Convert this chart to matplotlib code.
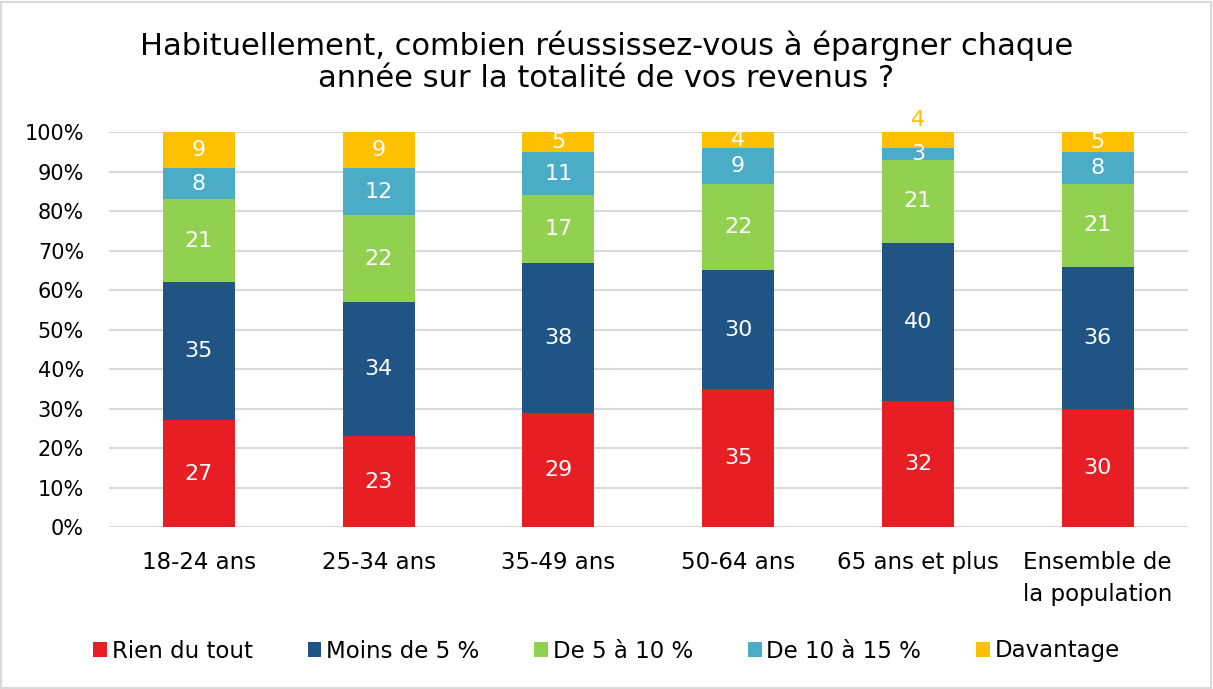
import numpy as np
import matplotlib.pyplot as plt
from matplotlib.patches import Rectangle

categories = ['18-24 ans', '25-34 ans', '35-49 ans', '50-64 ans', '65 ans et plus', 'Ensemble de\nla population']
series = ['Rien du tout', 'Moins de 5 %', 'De 5 à 10 %', 'De 10 à 15 %', 'Davantage']
rien = [27, 23, 29, 35, 32, 30]
moins5 = [35, 34, 38, 30, 40, 36]
de5a10 = [21, 22, 17, 22, 21, 21]
de10a15 = [8, 12, 11, 9, 3, 8]
davantage = [9, 9, 5, 4, 4, 5]
colors = ['#E81E25', '#1F5485', '#92D050', '#4BACC6', '#FFC000']

plt.rcParams['font.family'] = 'DejaVu Sans'

fig = plt.figure(figsize=(12.13, 6.89), dpi=100)
ax = fig.add_axes([0.0899, 0.235, 0.8891, 0.573])
fig.patches.append(Rectangle((0.001, 0.001), 0.997, 0.996, transform=fig.transFigure,
                             fill=False, edgecolor='#D9D9D9', linewidth=1.5))

x = np.arange(len(categories))
bottom = np.zeros(len(categories))
data = [rien, moins5, de5a10, de10a15, davantage]
for s, vals, c in zip(series, data, colors):
    vals = np.array(vals, dtype=float)
    ax.bar(x, vals, 0.4, bottom=bottom, color=c, label=s, zorder=3)
    for i, v in enumerate(vals):
        if s == 'Davantage' and i == 4:
            # small segment: label above the bar
            ax.text(x[i], bottom[i] + v + 3, f'{int(v)}', ha='center', va='center',
                    color=c, fontsize=16)
        else:
            ax.text(x[i], bottom[i] + v / 2, f'{int(v)}', ha='center', va='center',
                    color='white', fontsize=16, zorder=4)
    bottom += vals

ax.set_xlim(-0.5, len(categories) - 0.5)
ax.set_ylim(0, 100)
ax.set_yticks(np.arange(0, 101, 10))
ax.set_yticklabels([f'{t}%' for t in range(0, 101, 10)], fontsize=15)
ax.set_xticks(x)
ax.set_xticklabels(categories, fontsize=16.5, linespacing=1.5)
ax.tick_params(axis='both', length=0)
ax.tick_params(axis='x', pad=17)
ax.tick_params(axis='y', pad=18)
ax.yaxis.grid(True, color='#D9D9D9', linewidth=1.5, zorder=0)
ax.set_axisbelow(True)
for sp in ax.spines.values():
    sp.set_visible(False)

fig.text(0.5, 1 - 62 / 689, 'Habituellement, combien réussissez-vous à épargner chaque\nannée sur la totalité de vos revenus ?',
         fontsize=22, ha='center', va='center', linespacing=1.12)

fig.legend(loc='center', bbox_to_anchor=(0.5, 1 - 651 / 689), ncol=5, frameon=False,
           fontsize=16.5, handlelength=0.6, handleheight=0.6, handletextpad=0.2,
           columnspacing=2.4)

fig.savefig('out.png', dpi=100)
